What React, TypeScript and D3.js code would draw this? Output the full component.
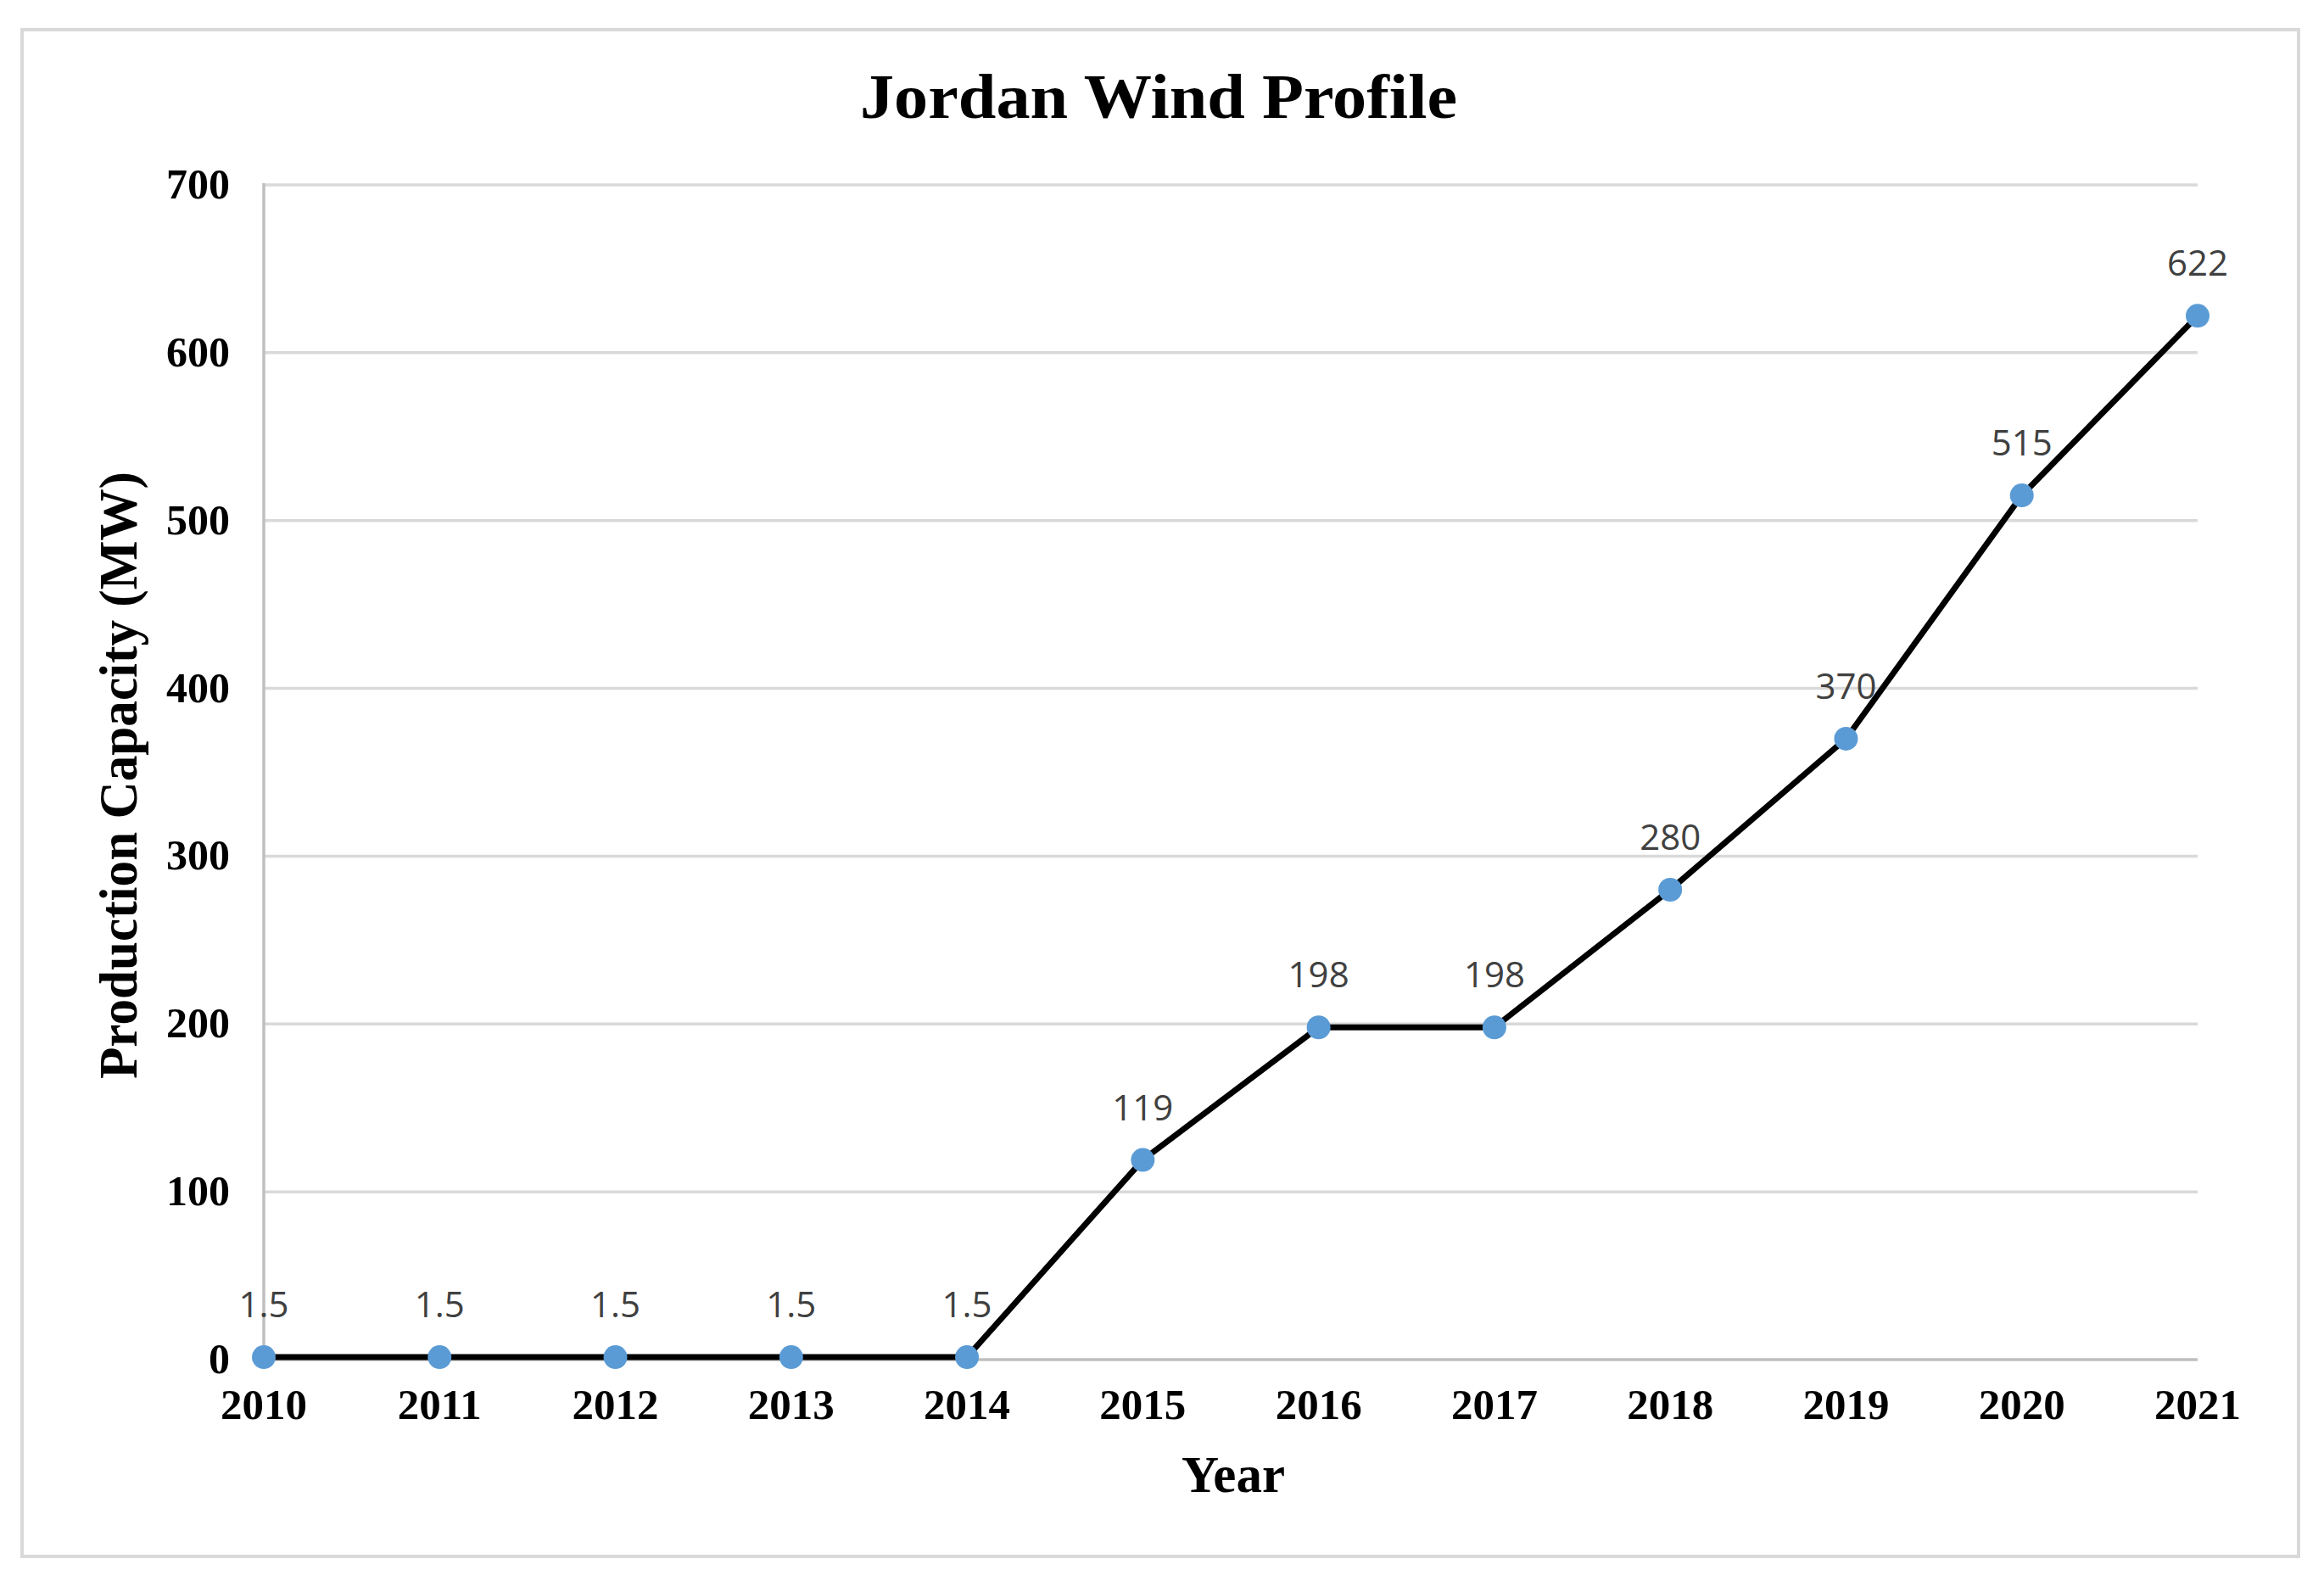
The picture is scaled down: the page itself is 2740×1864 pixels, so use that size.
import React from "react";
import * as d3 from "d3";

const years = ["2010", "2011", "2012", "2013", "2014", "2015", "2016", "2017", "2018", "2019", "2020", "2021"];
const capacity = [1.5, 1.5, 1.5, 1.5, 1.5, 119, 198, 198, 280, 370, 515, 622];
const capacityLabels = ["1.5", "1.5", "1.5", "1.5", "1.5", "119", "198", "198", "280", "370", "515", "622"];
const yTicks = [0, 100, 200, 300, 400, 500, 600, 700];

const title = "Jordan Wind Profile";
const xTitle = "Year";
const yTitle = "Production Capacity (MW)";

const W = 2740;
const H = 1864;
const plot = { left: 311, right: 2591, top: 218, bottom: 1603 };
const serif = "'Liberation Serif', 'Times New Roman', serif";
const sans = "'Open Sans', 'Noto Sans', sans-serif";

export default function App() {
  const x = d3.scalePoint<string>().domain(years).range([plot.left, plot.right]).padding(0);
  const y = d3.scaleLinear().domain([0, 700]).range([plot.bottom, plot.top]);
  const line = d3
    .line<number>()
    .x((_, i) => x(years[i]) as number)
    .y((d) => y(d));

  return (
    <svg
      width={W}
      height={H}
      viewBox={`0 0 ${W} ${H}`}
      style={{ position: "absolute", left: 0, top: 0, background: "#fff" }}
    >
      <rect x={0} y={0} width={W} height={H} fill="#fff" />
      <rect x={26} y={35} width={2684} height={1800} fill="#fff" stroke="#d9d9d9" strokeWidth={4} />

      <text
        x={1366}
        y={139}
        textAnchor="middle"
        fontFamily={serif}
        fontWeight="bold"
        fontSize={74}
        textLength={704}
        lengthAdjust="spacingAndGlyphs"
        fill="#000"
      >
        {title}
      </text>

      {yTicks.map((t) => (
        <line
          key={"g" + t}
          x1={plot.left}
          x2={plot.right}
          y1={y(t)}
          y2={y(t)}
          stroke={t === 0 ? "#bfbfbf" : "#d9d9d9"}
          strokeWidth={3.5}
        />
      ))}
      <line x1={plot.left} x2={plot.left} y1={plot.top - 2} y2={plot.bottom} stroke="#bfbfbf" strokeWidth={3.5} />

      {yTicks.map((t) => (
        <text
          key={"yl" + t}
          x={271}
          y={y(t) + 16}
          textAnchor="end"
          fontFamily={serif}
          fontWeight="bold"
          fontSize={50}
          fill="#000"
        >
          {t}
        </text>
      ))}

      {years.map((yr) => (
        <text
          key={"xl" + yr}
          x={x(yr) as number}
          y={1673}
          textAnchor="middle"
          fontFamily={serif}
          fontWeight="bold"
          fontSize={51}
          fill="#000"
        >
          {yr}
        </text>
      ))}

      <text
        x={1454}
        y={1759}
        textAnchor="middle"
        fontFamily={serif}
        fontWeight="bold"
        fontSize={61}
        fill="#000"
      >
        {xTitle}
      </text>

      <text
        transform={`translate(161, 914) rotate(-90)`}
        textAnchor="middle"
        fontFamily={serif}
        fontWeight="bold"
        fontSize={63}
        textLength={716}
        lengthAdjust="spacingAndGlyphs"
        fill="#000"
      >
        {yTitle}
      </text>

      <path d={line(capacity) || ""} fill="none" stroke="#000" strokeWidth={7} strokeLinejoin="round" />

      {capacity.map((v, i) => (
        <circle key={"p" + i} cx={x(years[i]) as number} cy={y(v)} r={14} fill="#5b9bd5" />
      ))}

      {capacity.map((v, i) => (
        <text
          key={"dl" + i}
          x={x(years[i]) as number}
          y={y(v) - 47}
          textAnchor="middle"
          fontFamily={sans}
          fontSize={42}
          fill="#404040"
        >
          {capacityLabels[i]}
        </text>
      ))}
    </svg>
  );
}
